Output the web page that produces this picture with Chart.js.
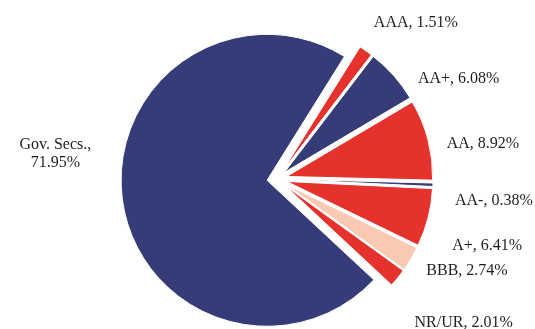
<!DOCTYPE html>
<html>
<head>
<meta charset="utf-8">
<script src="https://cdn.jsdelivr.net/npm/chart.js@4/dist/chart.umd.min.js"></script>
<style>
  html, body { margin: 0; padding: 0; background: #ffffff; }
  canvas { display: block; }
</style>
</head>
<body>
<canvas id="pie" width="535" height="329"></canvas>
<script>
// Portfolio split by credit rating (% of holdings)
const categories = ['AAA', 'AA+', 'AA', 'AA-', 'A+', 'BBB', 'NR/UR', 'Gov. Secs.'];
const shares = [1.51, 6.08, 8.92, 0.38, 6.41, 2.74, 2.01, 71.95];

const NAVY = '#353c78';
const RED = '#e5322d';
const PEACH = '#f9c9b1';
const sliceColors = [RED, NAVY, RED, NAVY, RED, PEACH, RED, NAVY];

// Where each label sits, relative to the outer edge point of its slice
const labelShift = [
  [50, -24], [65, 8], [55, 8], [61, 20], [59, 32], [56, 16], [66, 49], [-67, -50]
];

const EXPLODE = 10;
const FONT = '16px "Liberation Serif", "DejaVu Serif", serif';

function sliceGeometry(arc, dist) {
  const p = arc.getProps(['x', 'y', 'startAngle', 'endAngle', 'outerRadius'], true);
  const mid = (p.startAngle + p.endAngle) / 2;
  const ox = Math.cos(mid) * dist, oy = Math.sin(mid) * dist;
  return { mid, ox, oy, cx: p.x + ox, cy: p.y + oy, r: p.outerRadius };
}

// Pull every slice away from the centre along its own bisector
const explodePlugin = {
  id: 'explode',
  beforeDatasetDraw(chart, args, opts) {
    const ctx = chart.ctx;
    args.meta.data.forEach(arc => {
      const g = sliceGeometry(arc, opts.distance);
      ctx.save();
      ctx.translate(g.ox, g.oy);
      arc.draw(ctx);
      ctx.restore();
    });
    return false;
  }
};

// "Category, value%" labels outside the pie
const sliceLabels = {
  id: 'sliceLabels',
  afterDatasetsDraw(chart, args, opts) {
    const ctx = chart.ctx;
    const meta = chart.getDatasetMeta(0);
    ctx.save();
    ctx.font = FONT;
    ctx.fillStyle = '#1e1e1e';
    ctx.textAlign = 'center';
    ctx.textBaseline = 'alphabetic';
    meta.data.forEach((arc, i) => {
      const g = sliceGeometry(arc, opts.distance);
      const px = g.cx + Math.cos(g.mid) * g.r + labelShift[i][0];
      const py = g.cy + Math.sin(g.mid) * g.r + labelShift[i][1];
      const value = shares[i].toFixed(2) + '%';
      if (shares[i] > 50) {
        ctx.fillText(categories[i] + ',', px, py);
        ctx.fillText(value, px, py + 18);
      } else {
        ctx.fillText(categories[i] + ', ' + value, px, py);
      }
    });
    ctx.restore();
  }
};

new Chart(document.getElementById('pie'), {
  type: 'pie',
  data: {
    labels: categories,
    datasets: [{
      data: shares,
      backgroundColor: sliceColors,
      borderColor: '#ffffff',
      borderWidth: 1,
      radius: 146
    }]
  },
  options: {
    responsive: false,
    animation: false,
    rotation: 32,
    layout: { padding: { left: 19, top: 29, right: 0, bottom: 0 } },
    plugins: {
      legend: { display: false },
      tooltip: { enabled: false },
      explode: { distance: EXPLODE },
      sliceLabels: { distance: EXPLODE }
    }
  },
  plugins: [explodePlugin, sliceLabels]
});
</script>
</body>
</html>
